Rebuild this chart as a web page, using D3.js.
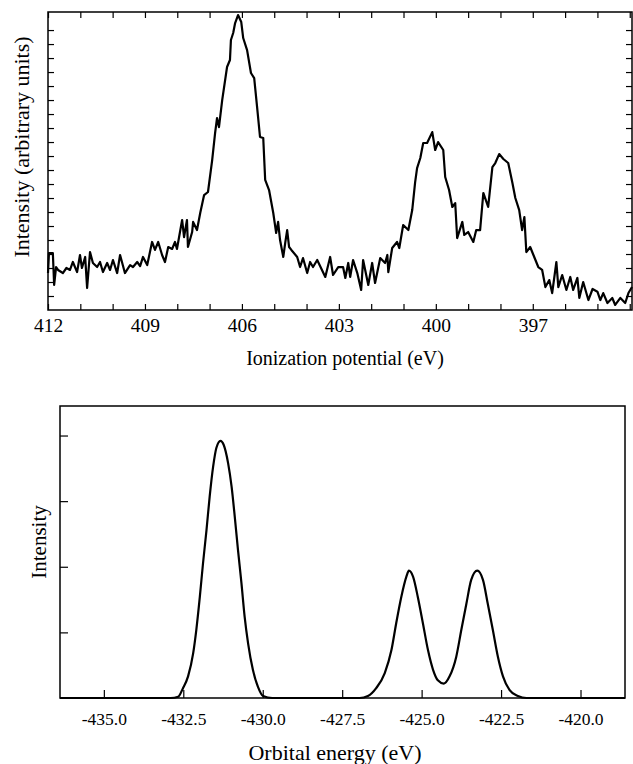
<!DOCTYPE html>
<html>
<head>
<meta charset="utf-8">
<script src="https://cdn.jsdelivr.net/npm/d3@7"></script>
<style>
  body { margin: 0; background: #fff; }
  text { font-family: "Liberation Serif", "DejaVu Serif", serif; fill: #000; }
</style>
</head>
<body>
<div id="graphic"></div>
<script>
var ipEnergy = [412.00, 411.97, 411.85, 411.81, 411.75, 411.69, 411.54, 411.43, 411.32, 411.23,
  411.10, 411.01, 410.95, 410.85, 410.79, 410.70, 410.61, 410.48, 410.39, 410.30,
  410.17, 410.08, 409.99, 409.86, 409.77, 409.62, 409.46, 409.37, 409.24, 409.15,
  409.06, 408.93, 408.78, 408.69, 408.59, 408.47, 408.38, 408.28, 408.16, 408.07,
  408.01, 407.85, 407.79, 407.70, 407.67, 407.54, 407.51, 407.39, 407.29, 407.17,
  407.05, 406.92, 406.83, 406.77, 406.71, 406.61, 406.46, 406.37, 406.34, 406.27,
  406.21, 406.12, 406.02, 405.96, 405.84, 405.72, 405.62, 405.53, 405.44, 405.34,
  405.28, 405.16, 405.03, 404.94, 404.88, 404.82, 404.72, 404.66, 404.60, 404.54,
  404.47, 404.29, 404.20, 404.11, 403.98, 403.89, 403.80, 403.67, 403.42, 403.27,
  403.18, 403.02, 402.87, 402.80, 402.71, 402.65, 402.56, 402.43, 402.31, 402.25,
  402.09, 401.97, 401.88, 401.72, 401.57, 401.50, 401.47, 401.35, 401.20, 401.13,
  401.01, 400.85, 400.73, 400.64, 400.58, 400.48, 400.39, 400.27, 400.11, 400.02,
  399.93, 399.77, 399.71, 399.59, 399.49, 399.40, 399.34, 399.18, 399.12, 399.00,
  398.84, 398.75, 398.63, 398.53, 398.38, 398.25, 398.16, 398.04, 397.91, 397.76,
  397.63, 397.54, 397.42, 397.33, 397.26, 397.20, 397.08, 396.98, 396.83, 396.71,
  396.61, 396.49, 396.40, 396.27, 396.21, 396.09, 395.96, 395.84, 395.75, 395.62,
  395.56, 395.44, 395.28, 395.15, 395.00, 394.91, 394.82, 394.69, 394.54, 394.45,
  394.29, 394.14, 394.04, 393.93];
var ipIntensity = [2.64, 4.07, 4.07, 1.79, 3.07, 2.86, 2.64, 3.00, 2.86, 3.43,
  2.71, 3.93, 3.00, 3.79, 1.57, 4.14, 3.36, 3.07, 3.43, 2.71,
  3.36, 2.86, 3.57, 2.64, 3.93, 2.64, 3.21, 3.07, 3.43, 3.14,
  3.79, 3.21, 4.86, 4.29, 4.86, 3.93, 3.43, 4.50, 4.36, 4.86,
  4.36, 6.43, 5.21, 6.43, 4.50, 5.57, 6.29, 5.71, 6.93, 8.21,
  8.43, 10.71, 12.64, 13.71, 13.07, 15.00, 17.36, 17.86, 19.29, 19.79,
  20.50, 21.07, 20.57, 19.43, 18.57, 16.93, 16.57, 14.50, 12.36, 12.29,
  9.29, 8.57, 6.93, 5.50, 6.29, 5.00, 3.79, 4.79, 5.71, 4.50,
  4.29, 3.79, 3.07, 3.71, 2.64, 3.43, 3.07, 3.57, 2.36, 3.79,
  2.50, 3.07, 3.07, 2.29, 3.36, 2.36, 3.57, 2.64, 1.43, 3.57,
  1.79, 3.36, 1.93, 3.71, 3.36, 3.93, 2.71, 4.43, 4.86, 4.43,
  6.07, 5.71, 7.14, 9.14, 10.14, 10.86, 11.93, 11.93, 12.71, 11.43,
  12.00, 11.43, 9.50, 8.57, 7.36, 7.64, 5.14, 6.29, 5.36, 5.57,
  4.86, 5.71, 5.71, 8.36, 7.36, 10.21, 10.50, 11.14, 10.79, 10.50,
  9.07, 8.00, 7.14, 5.71, 6.64, 4.14, 4.50, 3.93, 3.07, 2.86,
  1.64, 2.14, 1.21, 3.43, 1.64, 2.50, 1.43, 2.36, 1.43, 2.29,
  0.86, 2.00, 0.71, 1.50, 1.31, 0.71, 1.21, 0.50, 0.86, 0.36,
  0.86, 0.50, 1.21, 1.64];
var ipLabels = [412, 409, 406, 403, 400, 397];

// ---- bottom panel: computed orbital-energy spectrum ----
var orbEnergy = [-436.38, -433.50, -432.90, -432.66, -432.51, -432.35, -432.19, -432.09, -431.98, -431.88,
  -431.77, -431.67, -431.56, -431.46, -431.33, -431.23, -431.09, -430.98, -430.88, -430.78,
  -430.67, -430.57, -430.46, -430.31, -430.15, -429.99, -429.70, -428.00, -426.95, -426.69,
  -426.43, -426.16, -425.95, -425.80, -425.64, -425.48, -425.40, -425.27, -425.12, -424.96,
  -424.80, -424.64, -424.49, -424.30, -424.12, -423.91, -423.75, -423.59, -423.44, -423.25,
  -423.07, -422.92, -422.76, -422.60, -422.44, -422.23, -421.97, -421.70, -420.00, -418.60];
var orbIntensity = [0, 0, 0, 0.02, 0.15, 0.33, 0.68, 1.04, 1.54, 2.05,
  2.56, 3.07, 3.53, 3.81, 3.92, 3.86, 3.58, 3.22, 2.76, 2.26,
  1.75, 1.24, 0.83, 0.43, 0.17, 0.03, 0, 0, 0, 0.03,
  0.15, 0.38, 0.73, 1.14, 1.54, 1.85, 1.94, 1.85, 1.54, 1.14,
  0.73, 0.43, 0.27, 0.22, 0.33, 0.63, 1.04, 1.44, 1.80, 1.94,
  1.80, 1.44, 1.04, 0.63, 0.33, 0.12, 0.03, 0, 0, 0];
var orbLabels = [-435, -432.5, -430, -427.5, -425, -422.5, -420];

var W = 633, H = 764;
var svg = d3.select("#graphic").append("svg")
    .attr("width", W)
    .attr("height", H);

// ================= top panel =================
var tx = d3.scaleLinear().domain([412, 393.93]).range([48, 632]);
var ty = d3.scaleLinear().domain([0, 21.29]).range([310, 12]);
var yTickVals = ty.ticks(25).filter(function (d) { return d > 0 && d <= 20; });

svg.append("g")
    .attr("transform", "translate(0,310)")
    .call(d3.axisBottom(tx).tickValues(tx.ticks(20)).tickSize(-6).tickSizeOuter(0).tickPadding(8)
      .tickFormat(function (d) { return ipLabels.indexOf(d) >= 0 ? d : ""; }))
    .call(function (g) { g.select(".domain").remove(); })
    .call(function (g) { g.selectAll("text").style("font-size", "19.5px"); });

svg.append("g")
    .attr("transform", "translate(0,12)")
    .call(d3.axisTop(tx).tickValues(tx.ticks(20)).tickSize(-6).tickSizeOuter(0).tickFormat(""))
    .call(function (g) { g.select(".domain").remove(); });

svg.append("g")
    .attr("transform", "translate(48,0)")
    .call(d3.axisLeft(ty).tickValues(yTickVals).tickSize(-6).tickSizeOuter(0).tickFormat(""))
    .call(function (g) { g.select(".domain").remove(); });

svg.append("g")
    .attr("transform", "translate(632,0)")
    .call(d3.axisRight(ty).tickValues(yTickVals).tickSize(-6).tickSizeOuter(0).tickFormat(""))
    .call(function (g) { g.select(".domain").remove(); });

svg.selectAll(".tick line").attr("stroke", "#000").attr("stroke-width", 1.2);

svg.append("rect")
    .attr("x", 48).attr("y", 12)
    .attr("width", 584).attr("height", 298)
    .attr("fill", "none").attr("stroke", "#000").attr("stroke-width", 1.5);

var ipLine = d3.line()
    .x(function (d, i) { return tx(ipEnergy[i]); })
    .y(function (d) { return ty(d); });

svg.append("path")
    .datum(ipIntensity)
    .attr("d", ipLine)
    .attr("fill", "none")
    .attr("stroke", "#000")
    .attr("stroke-width", 2.2)
    .attr("stroke-linejoin", "round");

svg.append("text")
    .attr("x", 345).attr("y", 365)
    .attr("text-anchor", "middle")
    .style("font-size", "20px")
    .text("Ionization potential (eV)");

svg.append("text")
    .attr("transform", "translate(29,147) rotate(-90)")
    .attr("text-anchor", "middle")
    .style("font-size", "22px")
    .text("Intensity (arbitrary units)");

// ================= bottom panel =================
var bx = d3.scaleLinear().domain([-436.38, -418.6]).range([60, 625]);
var by = d3.scaleLinear().domain([0, 4.45]).range([698, 406]);

svg.append("g")
    .attr("transform", "translate(0,698)")
    .call(d3.axisBottom(bx).tickValues(orbLabels).tickSize(-8).tickSizeOuter(0).tickPadding(14.5)
      .tickFormat(function (d) { return d.toFixed(1); }))
    .call(function (g) { g.select(".domain").remove(); })
    .call(function (g) { g.selectAll("text").style("font-size", "17.5px"); })
    .call(function (g) { g.selectAll(".tick line").attr("stroke", "#000").attr("stroke-width", 1.2); });

svg.append("g")
    .attr("transform", "translate(60,0)")
    .call(d3.axisLeft(by).tickValues([1, 2, 3, 4]).tickSize(-8).tickSizeOuter(0).tickFormat(""))
    .call(function (g) { g.select(".domain").remove(); })
    .call(function (g) { g.selectAll(".tick line").attr("stroke", "#000").attr("stroke-width", 1.2); });

svg.append("rect")
    .attr("x", 60).attr("y", 406)
    .attr("width", 565).attr("height", 292)
    .attr("fill", "none").attr("stroke", "#000").attr("stroke-width", 1.5);

var orbLine = d3.line()
    .x(function (d, i) { return bx(orbEnergy[i]); })
    .y(function (d) { return by(d); })
    .curve(d3.curveMonotoneX);

svg.append("path")
    .datum(orbIntensity)
    .attr("d", orbLine)
    .attr("fill", "none")
    .attr("stroke", "#000")
    .attr("stroke-width", 2.2);

svg.append("text")
    .attr("x", 335).attr("y", 760)
    .attr("text-anchor", "middle")
    .style("font-size", "22px")
    .text("Orbital energy (eV)");

svg.append("text")
    .attr("transform", "translate(46,542) rotate(-90)")
    .attr("text-anchor", "middle")
    .style("font-size", "21px")
    .text("Intensity");
</script>
</body>
</html>
